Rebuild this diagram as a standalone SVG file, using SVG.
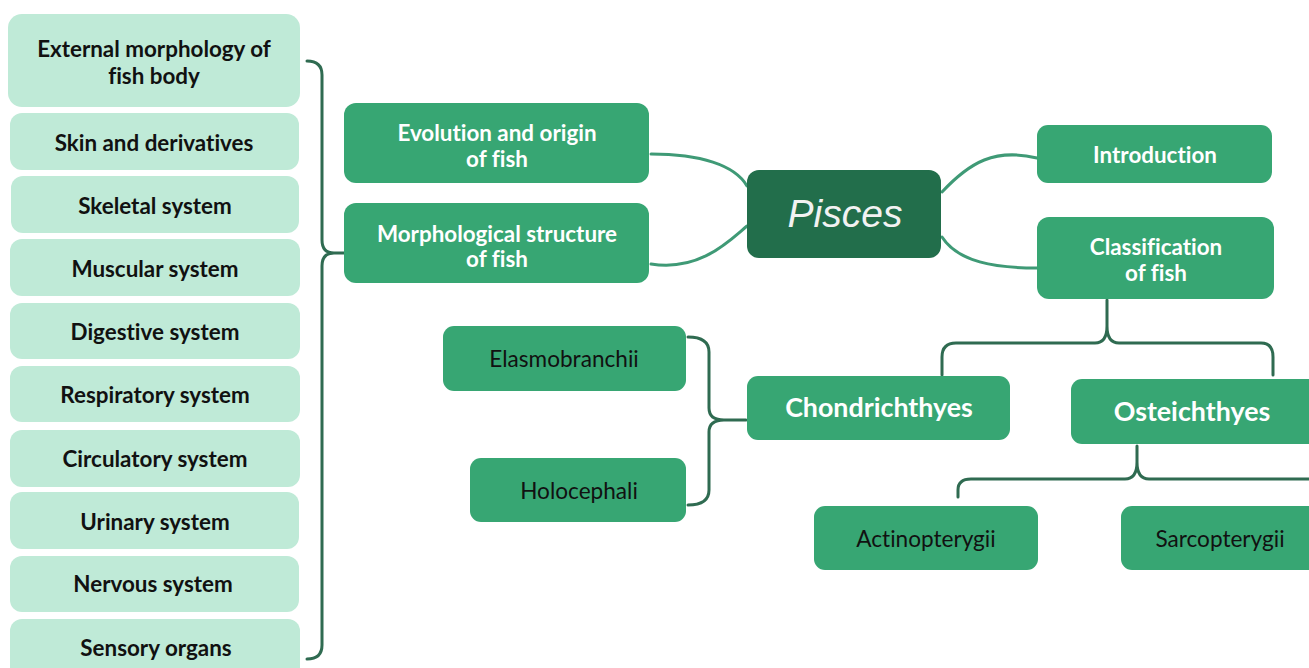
<svg xmlns="http://www.w3.org/2000/svg" width="1309" height="668" viewBox="0 0 1309 668">
  <style>
    text { font-variant-ligatures: none; }
    .sub { fill: #bfead7; }
    .mid { fill: #37a673; }
    .root { fill: #226e4b; }
    .t-sub { font-family: Lato, "Open Sans", sans-serif; font-weight: bold; font-size: 22.4px; fill: #111; text-anchor: middle; }
    .t-mid { font-family: Lato, "Open Sans", sans-serif; font-weight: bold; font-size: 22.4px; fill: #fff; text-anchor: middle; }
    .t-big { font-family: Lato, "Open Sans", sans-serif; font-weight: bold; font-size: 26.8px; fill: #fff; text-anchor: middle; }
    .t-leaf { font-family: Lato, "Open Sans", sans-serif; font-size: 22.6px; fill: #111; text-anchor: middle; }
    .t-root { font-family: "Liberation Sans", Arial, sans-serif; font-style: italic; font-size: 39px; fill: #f2f2f2; text-anchor: middle; }
    .curve { fill: none; stroke: #3f9a76; stroke-width: 3; stroke-linecap: round; }
    .brace { fill: none; stroke: #2f6b51; stroke-width: 3; stroke-linecap: round; stroke-linejoin: round; }
  </style>
  <rect width="1309" height="668" fill="#ffffff"/>

  <!-- connectors -->
  <g id="connectors">
    <path class="curve" d="M651,154 C700,154 735,165 747,186"/>
    <path class="curve" d="M651,264 C700,272 730,240 747,226"/>
    <path class="curve" d="M942,192 C970,162 995,148 1037,158"/>
    <path class="curve" d="M942,237 C958,262 995,268 1037,268"/>
    <!-- brace gathering the organ-system list -->
    <path class="brace" d="M307,61 Q322,61 322,75 L322,240 Q322,253 334,253 L344,253 M334,253 Q322,253 322,266 L322,645 Q322,659 307,659"/>
    <!-- brace to Chondrichthyes subclasses -->
    <path class="brace" d="M688,337 Q709,337 709,352 L709,408 Q709,420 724,420 L746,420 M724,420 Q709,420 709,432 L709,490 Q709,505 688,505"/>
    <!-- brace below Classification -->
    <path class="brace" d="M1107,300 L1107,326 Q1107,343 1095,343 L956,343 Q942,343 942,357 L942,375 M1107,326 Q1107,343 1119,343 L1261,343 Q1273,343 1273,357 L1273,375"/>
    <!-- brace below Osteichthyes -->
    <path class="brace" d="M1137,446 L1137,462 Q1137,479 1125,479 L971,479 Q958,479 958,490 L958,497 M1137,462 Q1137,479 1149,479 L1309,479"/>
  </g>

  <!-- organ-system list -->
  <g id="n-external"><rect class="sub" x="8" y="14" width="292" height="93" rx="14"/><text class="t-sub" x="154" y="57">External morphology of</text><text class="t-sub" x="154" y="84">fish body</text></g>
  <g id="n-skin"><rect class="sub" x="10" y="113" width="289" height="57" rx="12"/><text class="t-sub" x="154" y="151">Skin and derivatives</text></g>
  <g id="n-skeletal"><rect class="sub" x="11" y="176" width="288" height="57" rx="12"/><text class="t-sub" x="155" y="214">Skeletal system</text></g>
  <g id="n-muscular"><rect class="sub" x="10" y="239" width="290" height="57" rx="12"/><text class="t-sub" x="155" y="277">Muscular system</text></g>
  <g id="n-digestive"><rect class="sub" x="10" y="303" width="290" height="56" rx="12"/><text class="t-sub" x="155" y="340">Digestive system</text></g>
  <g id="n-respiratory"><rect class="sub" x="10" y="366" width="290" height="56" rx="12"/><text class="t-sub" x="155" y="403">Respiratory system</text></g>
  <g id="n-circulatory"><rect class="sub" x="10" y="430" width="290" height="57" rx="12"/><text class="t-sub" x="155" y="467">Circulatory system</text></g>
  <g id="n-urinary"><rect class="sub" x="10" y="492" width="289" height="57" rx="12"/><text class="t-sub" x="155" y="530">Urinary system</text></g>
  <g id="n-nervous"><rect class="sub" x="10" y="556" width="289" height="56" rx="12"/><text class="t-sub" x="153" y="592">Nervous system</text></g>
  <g id="n-sensory"><rect class="sub" x="10" y="619" width="290" height="70" rx="12"/><text class="t-sub" x="156" y="656">Sensory organs</text></g>

  <!-- main branches -->
  <g id="n-evolution"><rect class="mid" x="344" y="103" width="305" height="80" rx="12"/><text class="t-mid" x="497" y="141">Evolution and origin</text><text class="t-mid" x="497" y="167">of fish</text></g>
  <g id="n-morph"><rect class="mid" x="344" y="203" width="305" height="80" rx="12"/><text class="t-mid" x="497" y="242">Morphological structure</text><text class="t-mid" x="497" y="267">of fish</text></g>
  <g id="n-pisces"><rect class="root" x="747" y="170" width="194" height="88" rx="12"/><text class="t-root" x="845" y="227">Pisces</text></g>
  <g id="n-intro"><rect class="mid" x="1037" y="125" width="235" height="58" rx="11"/><text class="t-mid" x="1155" y="163">Introduction</text></g>
  <g id="n-class"><rect class="mid" x="1037" y="217" width="237" height="82" rx="12"/><text class="t-mid" x="1156" y="255">Classification</text><text class="t-mid" x="1156" y="281">of fish</text></g>

  <!-- taxonomy -->
  <g id="n-chondro"><rect class="mid" x="747" y="376" width="263" height="64" rx="11"/><text class="t-big" x="879" y="417">Chondrichthyes</text></g>
  <g id="n-osteo"><rect class="mid" x="1071" y="379" width="250" height="65" rx="11"/><text class="t-big" x="1192" y="421">Osteichthyes</text></g>
  <g id="n-elasmo"><rect class="mid" x="443" y="326" width="243" height="65" rx="11"/><text class="t-leaf" x="564" y="367">Elasmobranchii</text></g>
  <g id="n-holo"><rect class="mid" x="470" y="458" width="216" height="64" rx="11"/><text class="t-leaf" x="579" y="499">Holocephali</text></g>
  <g id="n-actino"><rect class="mid" x="814" y="506" width="224" height="64" rx="11"/><text class="t-leaf" x="926" y="547">Actinopterygii</text></g>
  <g id="n-sarco"><rect class="mid" x="1121" y="506" width="200" height="64" rx="11"/><text class="t-leaf" x="1220" y="547">Sarcopterygii</text></g>
</svg>
